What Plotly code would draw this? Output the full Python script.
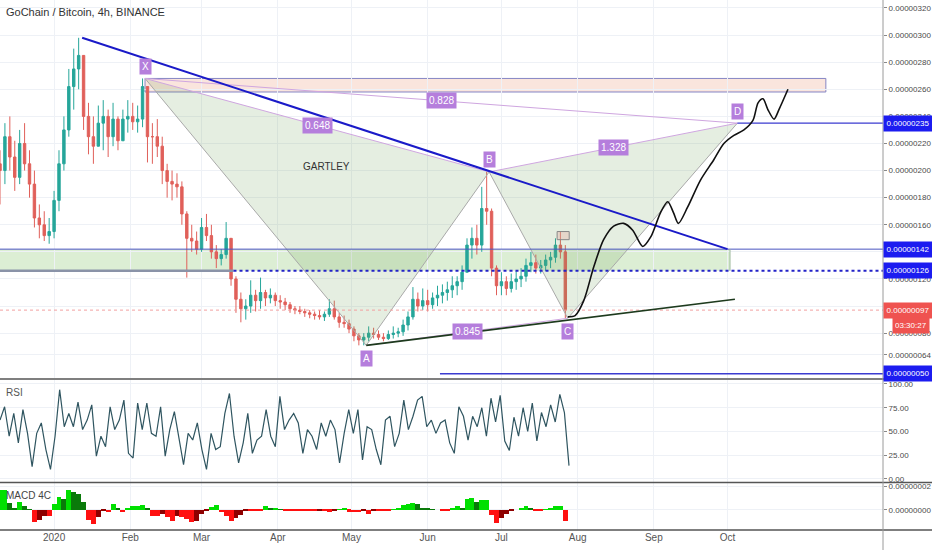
import pandas as pd
import plotly.graph_objects as go
from plotly.subplots import make_subplots

SAT = 1e-8   # prices below are in satoshi
TITLE = "GoChain / Bitcoin, 4h, BINANCE"

candle_start = "2019-12-10"
high_sat = [215, 235, 240, 222, 230, 235, 215, 200, 175, 170,
            165, 185, 215, 240, 275, 290, 298, 280, 250, 240,
            248, 252, 245, 250, 240, 245, 252, 250, 248, 268,
            262, 235, 238, 225, 205, 200, 198, 192, 170, 160,
            155, 165, 168, 160, 145, 142, 162, 150, 122, 110,
            105, 119, 112, 121, 112, 113, 110, 108, 106, 103,
            100, 100, 98, 97, 96, 97, 96, 105, 104, 95,
            93, 90, 85, 80, 80, 85, 84, 82, 80, 82,
            85, 84, 90, 96, 114, 110, 113, 112, 110, 115,
            116, 118, 122, 122, 130, 150, 158, 160, 188, 199,
            172, 130, 125, 122, 124, 126, 128, 135, 140, 138,
            134, 138, 140, 150, 155, 145]
low_sat = [175, 190, 200, 185, 190, 200, 180, 158, 150, 148,
           146, 150, 170, 200, 225, 245, 260, 230, 212, 205,
           220, 215, 210, 218, 215, 222, 228, 230, 228, 232,
           206, 205, 210, 190, 180, 178, 180, 160, 121, 140,
           138, 140, 148, 135, 128, 130, 135, 115, 95, 88,
           90, 95, 96, 98, 100, 102, 100, 98, 97, 95,
           94, 94, 92, 91, 90, 90, 89, 92, 90, 84,
           84, 80, 74, 71, 71, 74, 76, 75, 74, 75,
           76, 77, 78, 82, 90, 96, 97, 96, 98, 100,
           102, 104, 106, 108, 112, 125, 135, 138, 140, 160,
           122, 108, 108, 108, 110, 112, 114, 118, 125, 124,
           124, 126, 128, 132, 135, 91]
close_sat = [200, 225, 210, 195, 220, 205, 190, 165, 160, 152,
             155, 178, 205, 230, 262, 275, 285, 240, 225, 218,
             235, 240, 225, 238, 222, 238, 240, 236, 238, 262,
             225, 225, 218, 200, 192, 190, 188, 168, 150, 148,
             142, 158, 152, 140, 135, 138, 150, 120, 105, 98,
             100, 108, 104, 110, 106, 108, 104, 103, 101, 98,
             97, 96, 95, 94, 93, 92, 94, 98, 92, 88,
             87, 83, 78, 75, 77, 80, 79, 77, 76, 79,
             80, 81, 86, 92, 105, 100, 104, 101, 106, 108,
             110, 112, 115, 118, 125, 145, 150, 145, 172, 170,
             128, 115, 118, 113, 118, 120, 122, 130, 132, 128,
             130, 134, 136, 145, 140, 97]

rsi_end = "2020-07-28 12:00"
rsi_values = [62, 76, 45, 69, 38, 73, 48, 13, 48, 59, 31, 10, 45, 94, 55, 69, 55, 81, 52, 62,
              78, 24, 45, 34, 76, 52, 62, 83, 27, 22, 80, 52, 80, 48, 45, 76, 24, 52, 71, 41,
              15, 48, 41, 59, 31, 10, 48, 31, 34, 69, 90, 45, 17, 38, 69, 27, 41, 45, 73, 45,
              34, 87, 52, 62, 69, 59, 27, 52, 45, 31, 59, 45, 62, 52, 17, 48, 73, 48, 73, 20,
              55, 52, 31, 15, 62, 66, 34, 48, 83, 52, 66, 83, 87, 55, 62, 48, 59, 62, 38, 27,
              76, 66, 41, 66, 55, 75, 45, 85, 60, 88, 40, 30, 65, 45, 75, 50, 80, 40, 70, 55,
              78, 60, 89, 70, 14]

# MACD histogram in 1e-9 BTC, same dates as the candles
macd_hist = [17, 17, 6, 2, 6.7, 3.3, 0.5, -10, -8, -5,
             -5, 5, 11, 9, 17, 15, 13, 7, -8, -12,
             -6, -1, -2, 4.7, 2, -2, 1, 3, 3, 4,
             1, -5, -5, -3, -6, -9, -5, -6, -7.5, -10,
             -9, -3, -1, 2.8, 4, -2, -5, -9, -7, -4,
             -1, -1, -1, -1, 3.3, 1, 1, 0.5, -1, -1,
             -1, -1, -1, -1, -1, -0.5, -0.5, -1.5, -0.5, 0.5,
             1, -1.5, -2, -2, -1, -3.6, -1, -1, -1, -1,
             0.5, 1.7, 3.9, 5, 6, 4.7, 2, 1.4, 0.5, 0,
             -0.5, -0.5, 2, 3, 1, 9, 10, 7, 8, 8.5,
             -4, -10.5, -7, -3, -0.5, 0, 1, 3, 2, -0.5,
             -0.5, 0.5, 1.5, 3, 3.3, -9]

month_dates = ["2020-01-01", "2020-02-01", "2020-03-01", "2020-04-01", "2020-05-01",
               "2020-06-01", "2020-07-01", "2020-08-01", "2020-09-01", "2020-10-01"]
month_labels = ["2020", "Feb", "Mar", "Apr", "May", "Jun", "Jul", "Aug", "Sep", "Oct"]
price_ticks = [64, 80, 100, 120, 140, 160, 180, 200, 220, 240, 260, 280, 300, 320]

# gartley pattern
point_names = ["X", "A", "B", "C", "D"]
point_dates = ["2020-02-07", "2020-05-07", "2020-06-26", "2020-07-28", "2020-10-05"]
point_prices = [268, 71, 199, 91, 235]
ratio_labels = ["0.648", "0.828", "1.328", "0.845"]
ratio_legs = [("X", "B"), ("X", "D"), ("B", "D"), ("A", "C")]

forecast_dates = ["2020-07-28", "2020-07-31", "2020-08-03 12:00", "2020-08-07 14:00", "2020-08-11 14:00",
                  "2020-08-15 16:00", "2020-08-19 18:00", "2020-08-23 10:00", "2020-08-27 12:00",
                  "2020-08-30 18:00", "2020-09-03 18:00", "2020-09-06 16:00", "2020-09-09",
                  "2020-09-11", "2020-09-14 18:00", "2020-09-20", "2020-09-25 10:00", "2020-09-29 12:00",
                  "2020-10-03 14:00", "2020-10-07 16:00", "2020-10-11 08:00", "2020-10-13 10:00",
                  "2020-10-15 10:00", "2020-10-17 10:00", "2020-10-19 22:00", "2020-10-21 22:00",
                  "2020-10-25 14:00"]
forecast_prices = [92, 93, 104, 129, 149, 159, 161, 156, 144, 151, 169, 177, 169, 161,
                   173, 193, 208, 220, 226, 230, 237, 250, 253, 245, 238, 245, 260]

target_zone = (258, 268)
support_zone = (126, 142)
last_price = 97
timer_text = "03:30:27"
blue_tags = [235, 142, 126, 50]

X_LEFT, X_RIGHT = "2019-12-10", "2020-12-03 06:00"
EDGE = "2020-12-20"
H = 530.0  # plot height in px (below it sit the date labels)

BLUE = "#1c1cf0"
RED = "#ef5350"
PURPLE = "#b57edc"
GRID = "#eef1f6"
AXIS_FONT = "Liberation Sans, Arial, sans-serif"


def fmt(v):
    return f"{v * SAT:.8f}"


def main():
    dates = pd.date_range(candle_start, periods=len(close_sat), freq="2D")
    rsi_dates = pd.date_range(candle_start, rsi_end, periods=len(rsi_values))
    open_sat = [205] + close_sat[:-1]
    pts = {n: (pd.Timestamp(d), p) for n, d, p in zip(point_names, point_dates, point_prices)}

    fig = make_subplots(rows=3, cols=1, shared_xaxes=True, vertical_spacing=0.004)

    # pattern fills
    for a, b, c in [("X", "A", "B"), ("B", "C", "D")]:
        fig.add_trace(go.Scatter(
            x=[pts[a][0], pts[b][0], pts[c][0], pts[a][0]],
            y=[pts[a][1] * SAT, pts[b][1] * SAT, pts[c][1] * SAT, pts[a][1] * SAT],
            fill="toself", fillcolor="rgba(110,160,90,0.18)",
            mode="lines", line=dict(color="rgba(0,0,0,0)", width=0)), row=1, col=1)

    fig.add_trace(go.Candlestick(
        x=dates, open=[v * SAT for v in open_sat], high=[v * SAT for v in high_sat],
        low=[v * SAT for v in low_sat], close=[v * SAT for v in close_sat],
        increasing=dict(line=dict(color="#26a69a", width=1), fillcolor="#26a69a"),
        decreasing=dict(line=dict(color="#e0605a", width=1), fillcolor="#e0605a"),
        whiskerwidth=0), row=1, col=1)

    # pattern legs
    legs = ["X", "A", "B", "C", "D"]
    fig.add_trace(go.Scatter(
        x=[pts[n][0] for n in legs], y=[pts[n][1] * SAT for n in legs],
        mode="lines", line=dict(color="#a9a9a9", width=1)), row=1, col=1)
    for a, b in ratio_legs:
        fig.add_trace(go.Scatter(
            x=[pts[a][0], pts[b][0]], y=[pts[a][1] * SAT, pts[b][1] * SAT],
            mode="lines", line=dict(color="#cfa6e0", width=1)), row=1, col=1)

    # horizontal levels
    fig.add_trace(go.Scatter(x=[X_LEFT, EDGE], y=[last_price * SAT] * 2, mode="lines",
                             line=dict(color="#f2a0a0", width=1, dash="dot")), row=1, col=1)
    fig.add_trace(go.Scatter(x=["2019-12-01", EDGE], y=[support_zone[1] * SAT] * 2, mode="lines",
                             line=dict(color="#4a55c0", width=1)), row=1, col=1)
    fig.add_trace(go.Scatter(x=["2019-12-01", "2020-03-14"], y=[support_zone[0] * SAT] * 2, mode="lines",
                             line=dict(color="#8a93a8", width=2.5)), row=1, col=1)
    fig.add_trace(go.Scatter(x=["2020-03-14", EDGE], y=[support_zone[0] * SAT] * 2, mode="lines",
                             line=dict(color="#2323c8", width=2, dash="dot")), row=1, col=1)
    fig.add_trace(go.Scatter(x=[point_dates[4], EDGE], y=[235 * SAT] * 2, mode="lines",
                             line=dict(color="#3b3bd0", width=1.2)), row=1, col=1)
    fig.add_trace(go.Scatter(x=["2020-06-06", EDGE], y=[50 * SAT] * 2, mode="lines",
                             line=dict(color="#3b3bd0", width=1.5)), row=1, col=1)

    # trend lines and projection
    fig.add_trace(go.Scatter(x=["2020-01-12 10:00", "2020-10-01"], y=[298 * SAT, 142 * SAT],
                             mode="lines", line=dict(color="#1a1ac8", width=2)), row=1, col=1)
    fig.add_trace(go.Scatter(x=[point_dates[1], "2020-10-04"], y=[71 * SAT, 105 * SAT],
                             mode="lines", line=dict(color="#1d3a1d", width=1.6)), row=1, col=1)
    fig.add_trace(go.Scatter(x=forecast_dates, y=[v * SAT for v in forecast_prices],
                             mode="lines", line=dict(color="#111111", width=1.6, shape="spline",
                                                     smoothing=0.8)), row=1, col=1)

    # RSI pane
    fig.add_hrect(y0=20, y1=80, fillcolor="rgba(150,80,230,0.11)", line_width=0, layer="below",
                  row=2, col=1)
    for lvl in (20, 80):
        fig.add_hline(y=lvl, line=dict(color="#b8b8c0", width=1, dash="dash"), row=2, col=1)
    fig.add_trace(go.Scatter(x=rsi_dates, y=rsi_values, mode="lines",
                             line=dict(color="#2f5560", width=1.2)), row=2, col=1)

    # MACD 4C histogram
    colors = []
    prev = 0
    for v in macd_hist:
        if v >= 0:
            colors.append("#00e000" if v >= prev else "#0a7a0a")
        else:
            colors.append("#ff1010" if v <= prev else "#8e0000")
        prev = v
    fig.add_trace(go.Bar(x=dates, y=[v * 1e-9 for v in macd_hist], marker=dict(color=colors, line_width=0)),
                  row=3, col=1)

    # zones
    fig.add_shape(type="rect", xref="x", yref="y", x0="2019-12-01", x1="2020-10-02",
                  y0=support_zone[0] * SAT, y1=support_zone[1] * SAT,
                  fillcolor="rgba(120,190,90,0.26)", line=dict(width=0), layer="below")
    fig.add_shape(type="line", xref="x", yref="y", x0="2020-10-02", x1="2020-10-02",
                  y0=support_zone[0] * SAT, y1=support_zone[1] * SAT, line=dict(color="#9bb89a", width=1))
    fig.add_shape(type="rect", xref="x", yref="y", x0=point_dates[0], x1="2020-11-10",
                  y0=target_zone[0] * SAT, y1=target_zone[1] * SAT,
                  fillcolor="rgba(235,150,120,0.25)", line=dict(color="#8585c4", width=1), layer="below")
    fig.add_shape(type="rect", xref="x", yref="y", x0="2020-07-23 16:00", x1="2020-07-28 14:00",
                  y0=149 * SAT, y1=155 * SAT,
                  fillcolor="rgba(230,170,160,0.35)", line=dict(color="#888888", width=1))

    # pane separators and right axis line
    for yp in ((H - 379) / H, (H - 482.5) / H, 0.0):
        fig.add_shape(type="line", xref="paper", yref="paper", x0=0, x1=1.06, y0=yp, y1=yp,
                      line=dict(color="#555555", width=1.3))
    fig.add_shape(type="line", xref="paper", yref="paper", x0=1, x1=1, y0=-0.05, y1=1,
                  line=dict(color="#9a9a9a", width=1))

    ann = []
    label_font = dict(color="white", size=10, family="Liberation Sans, Arial")
    tag_font = dict(color="white", size=8, family=AXIS_FONT)
    for n in point_names:
        d, p = pts[n]
        ann.append(dict(x=d, y=p * SAT, xref="x", yref="y", text=n, showarrow=False,
                        yshift=-13 if n in ("A", "C") else 12, bgcolor=PURPLE,
                        font=label_font, borderpad=2))
    for text, (a, b) in zip(ratio_labels, ratio_legs):
        d = pts[a][0] + (pts[b][0] - pts[a][0]) / 2
        p = (pts[a][1] + pts[b][1]) / 2
        ann.append(dict(x=d, y=p * SAT, xref="x", yref="y", text=text, showarrow=False,
                        bgcolor=PURPLE, font=label_font, borderpad=2))
    ann.append(dict(x="2020-04-21", y=203 * SAT, xref="x", yref="y", text="GARTLEY",
                    showarrow=False, font=dict(color="#333333", size=10)))
    for v in blue_tags:
        ann.append(dict(x=1, y=v * SAT, xref="paper", yref="y", xanchor="left", yanchor="middle",
                        text=fmt(v), showarrow=False, bgcolor=BLUE, font=tag_font,
                        borderpad=2, width=44, height=11))
    ann.append(dict(x=1, y=last_price * SAT, xref="paper", yref="y", xanchor="left", yanchor="middle",
                    text=fmt(last_price), showarrow=False, bgcolor=RED, font=tag_font,
                    borderpad=2, width=44, height=11))
    ann.append(dict(x=1.053, y=last_price * SAT, xref="paper", yref="y", xanchor="right",
                    yanchor="middle", yshift=-15, text=timer_text, showarrow=False, bgcolor=RED,
                    font=tag_font, borderpad=2, height=11))
    ann.append(dict(x=0.004, y=1 - 12 / H, xref="paper", yref="paper", xanchor="left",
                    yanchor="middle", text=TITLE, showarrow=False,
                    font=dict(color="#333333", size=11)))
    ann.append(dict(x=0.004, y=1 - 392 / H, xref="paper", yref="paper", xanchor="left",
                    yanchor="middle", text="RSI", showarrow=False,
                    font=dict(color="#555555", size=10)))
    ann.append(dict(x=0.004, y=1 - 495 / H, xref="paper", yref="paper", xanchor="left",
                    yanchor="middle", text="MACD 4C", showarrow=False,
                    font=dict(color="#444444", size=10)))

    fig.update_layout(
        width=932, height=550, margin=dict(l=0, r=49, t=0, b=20, autoexpand=False),
        paper_bgcolor="white", plot_bgcolor="white", showlegend=False, hovermode=False,
        font=dict(family="Liberation Sans, Arial", size=10, color="#4a4a4a"),
        bargap=0, annotations=ann,
        yaxis=dict(domain=[(H - 378) / H, 1]),
        yaxis2=dict(domain=[(H - 482) / H, (H - 380) / H]),
        yaxis3=dict(domain=[0, (H - 483) / H]),
    )
    fig.update_xaxes(range=[X_LEFT, X_RIGHT], tickvals=month_dates, ticktext=month_labels,
                     showgrid=True, gridcolor=GRID, zeroline=False, rangeslider_visible=False,
                     ticks="", automargin=False, tickfont=dict(size=10, color="#555555"))
    common = dict(side="right", showgrid=True, gridcolor=GRID, zeroline=False, ticks="outside",
                  ticklen=3, tickcolor="#888888", showline=False, automargin=False,
                  tickfont=dict(family=AXIS_FONT, size=8, color="#4a4a4a"))
    fig.update_yaxes(range=[46.9 * SAT, 325.9 * SAT], tickvals=[v * SAT for v in price_ticks],
                     tickformat=".8f", row=1, col=1, **common)
    fig.update_yaxes(range=[-3.2, 104.2], tickvals=[0, 25, 50, 75, 100], tickformat=".2f",
                     row=2, col=1, **common)
    fig.update_yaxes(range=[-16.7e-9, 22.5e-9], tickvals=[0, 2e-8], tickformat=".8f",
                     row=3, col=1, **common)

    fig.write_html("out.html", config={"displayModeBar": False},
                   post_script="document.body.style.margin = '0';")


main()
